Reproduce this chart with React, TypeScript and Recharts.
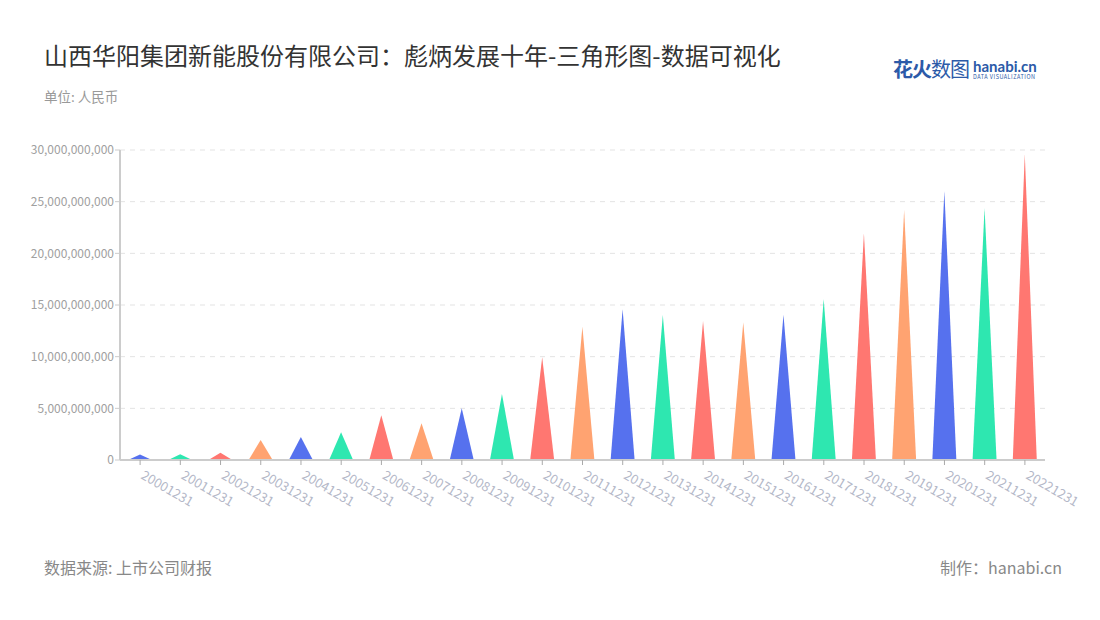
import React from "react";
import { BarChart, Bar, XAxis, YAxis, CartesianGrid, Cell } from "recharts";

const years = [
  "20001231", "20011231", "20021231", "20031231", "20041231", "20051231",
  "20061231", "20071231", "20081231", "20091231", "20101231", "20111231",
  "20121231", "20131231", "20141231", "20151231", "20161231", "20171231",
  "20181231", "20191231", "20201231", "20211231", "20221231",
];

// 单位: 十亿人民币
const values = [
  0.53, 0.55, 0.7, 1.93, 2.22, 2.68, 4.32, 3.55, 5.0, 6.39, 9.94, 12.9,
  14.58, 14.03, 13.45, 13.3, 14.06, 15.58, 21.94, 24.2, 26.03, 24.36, 29.6,
];

const yTicks = [0, 5e9, 10e9, 15e9, 20e9, 25e9, 30e9];
const palette = ["#5671ee", "#2ee7b0", "#ff7771", "#ffa371"];

const data = years.map((y, i) => ({ name: y, value: values[i] * 1e9 }));

const font = '"Noto Sans CJK SC", "Noto Sans", sans-serif';

const Triangle = (props: any) => {
  const { x, y, width, height, fill } = props;
  if (!height || height <= 0) return null;
  const d = `M${x},${y + height} L${x + width / 2},${y} L${x + width},${y + height} Z`;
  return <path d={d} fill={fill} />;
};

const XTick = (props: any) => {
  const { x, y, payload } = props;
  return (
    <text
      x={x}
      y={y + 11}
      transform={`rotate(30, ${x}, ${y + 11})`}
      fill="#b4b8c8"
      fontSize={13}
      fontFamily={font}
      textAnchor="start"
    >
      {payload.value}
    </text>
  );
};

export default function App() {
  return (
    <div
      style={{
        position: "absolute",
        left: 0,
        top: 0,
        width: 1100,
        height: 620,
        background: "#fff",
        fontFamily: font,
        overflow: "hidden",
      }}
    >
      <div style={{ position: "absolute", left: 44, top: 37, fontSize: 24, color: "#333" }}>
        山西华阳集团新能股份有限公司：彪炳发展十年-三角形图-数据可视化
      </div>
      <div style={{ position: "absolute", left: 44, top: 86, fontSize: 13.5, color: "#999" }}>
        单位: 人民币
      </div>
      <div style={{ position: "absolute", left: 893, top: 57, display: "flex", alignItems: "flex-end" }}>
        <span style={{ fontSize: 20, fontWeight: 700, color: "#2c5aa8", letterSpacing: -1, lineHeight: "23px" }}>
          花火<span style={{ fontWeight: 400 }}>数图</span>
        </span>
        <div style={{ marginLeft: 4, lineHeight: 1 }}>
          <div style={{ fontSize: 15, fontWeight: 700, color: "#2c5aa8", fontFamily: "Lato, sans-serif" }}>hanabi.cn</div>
          <div style={{ fontSize: 5.5, color: "#2c5aa8", letterSpacing: 0.5, marginTop: 1 }}>DATA VISUALIZATION</div>
        </div>
      </div>

      <div style={{ position: "absolute", left: 0, top: 0 }}>
        <BarChart
          width={1100}
          height={620}
          data={data}
          margin={{ top: 150, right: 55, left: 0, bottom: 0 }}
          barCategoryGap="40%"
        >
          <CartesianGrid vertical={false} stroke="#e3e3e3" strokeDasharray="5 5" />
          <YAxis
            width={120}
            domain={[0, 30e9]}
            ticks={yTicks}
            interval={0}
            tickFormatter={(v: number) => v.toLocaleString("en-US")}
            tick={{ fill: "#a0a0a0", fontSize: 12, fontFamily: font }}
            axisLine={{ stroke: "#cccccc", strokeWidth: 2 }}
            tickLine={{ stroke: "#cccccc" }}
            tickSize={5}
            tickMargin={1}
          />
          <XAxis
            dataKey="name"
            height={160}
            interval={0}
            tick={<XTick />}
            axisLine={{ stroke: "#cccccc", strokeWidth: 2 }}
            tickLine={{ stroke: "#aaaaaa" }}
            tickSize={5}
          />
          <Bar dataKey="value" shape={<Triangle />} isAnimationActive={false} barSize={24}>
            {data.map((d, i) => (
              <Cell key={d.name} fill={palette[i % 4]} />
            ))}
          </Bar>
        </BarChart>
      </div>

      <div style={{ position: "absolute", left: 44, top: 555, fontSize: 16, color: "#888" }}>
        数据来源: 上市公司财报
      </div>
      <div style={{ position: "absolute", right: 38, top: 555, fontSize: 16, color: "#888" }}>
        制作：hanabi.cn
      </div>
    </div>
  );
}
